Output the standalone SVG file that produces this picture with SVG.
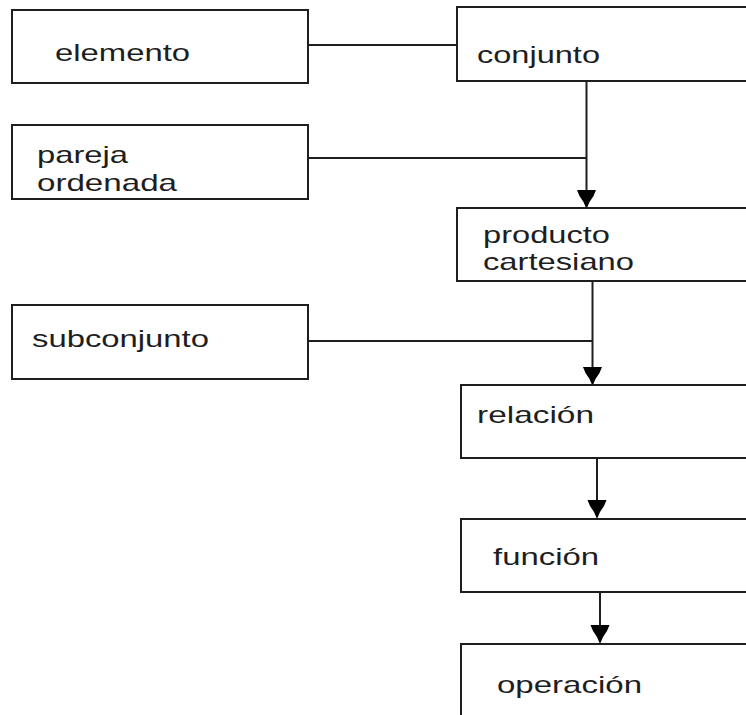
<svg xmlns="http://www.w3.org/2000/svg" xmlns:xlink="http://www.w3.org/1999/xlink" width="746" height="715" viewBox="0 0 746 715">
<style>
.box{fill:#fff;stroke:#1e1e1e;stroke-width:2}
.lbl{font-family:"Liberation Sans",Arial,sans-serif;font-size:24px;fill:#1e1e1e}
.con{stroke:#1e1e1e;stroke-width:2;fill:none}
.head{fill:#000}
</style>
<defs>
<path id="ah" d="M-9.5,0 L9.5,0 L7,6 L3,12 L0,19 L-3,12 L-7,6 Z"/>
</defs>
<rect width="746" height="715" fill="#fff"/>
<g id="connectors">
<line class="con" x1="308" y1="45" x2="457" y2="45"/>
<line class="con" x1="308" y1="158" x2="587" y2="158"/>
<line class="con" x1="308" y1="341" x2="592" y2="341"/>
<line class="con" x1="586.5" y1="81" x2="586.5" y2="192"/>
<line class="con" x1="592.5" y1="281" x2="592.5" y2="368"/>
<line class="con" x1="597" y1="458" x2="597" y2="502"/>
<line class="con" x1="600" y1="592" x2="600" y2="626"/>
<use class="head" xlink:href="#ah" href="#ah" transform="translate(586.5,190)"/>
<use class="head" xlink:href="#ah" href="#ah" transform="translate(592.5,367)"/>
<use class="head" xlink:href="#ah" href="#ah" transform="translate(597,500)"/>
<use class="head" xlink:href="#ah" href="#ah" transform="translate(600,625)"/>
</g>
<g id="elemento">
<rect class="box" x="12" y="10" width="296" height="73"/>
<text class="lbl" x="55" y="61" textLength="135" lengthAdjust="spacingAndGlyphs">elemento</text>
</g>
<g id="conjunto">
<rect class="box" x="457" y="7" width="320" height="74"/>
<text class="lbl" x="477" y="63" textLength="123" lengthAdjust="spacingAndGlyphs">conjunto</text>
</g>
<g id="pareja">
<rect class="box" x="12" y="125" width="296" height="74"/>
<text class="lbl" x="37" y="163" textLength="91" lengthAdjust="spacingAndGlyphs">pareja</text>
<text class="lbl" x="37" y="191" textLength="140" lengthAdjust="spacingAndGlyphs">ordenada</text>
</g>
<g id="producto">
<rect class="box" x="457" y="208" width="320" height="73"/>
<text class="lbl" x="483" y="243" textLength="127" lengthAdjust="spacingAndGlyphs">producto</text>
<text class="lbl" x="483" y="270" textLength="151" lengthAdjust="spacingAndGlyphs">cartesiano</text>
</g>
<g id="subconjunto">
<rect class="box" x="12" y="305" width="296" height="74"/>
<text class="lbl" x="32" y="347" textLength="177" lengthAdjust="spacingAndGlyphs">subconjunto</text>
</g>
<g id="relacion">
<rect class="box" x="461" y="385" width="320" height="73"/>
<text class="lbl" x="477" y="423" textLength="117" lengthAdjust="spacingAndGlyphs">relación</text>
</g>
<g id="funcion">
<rect class="box" x="461" y="519" width="320" height="73"/>
<text class="lbl" x="493" y="565" textLength="106" lengthAdjust="spacingAndGlyphs">función</text>
</g>
<g id="operacion">
<rect class="box" x="461" y="644" width="320" height="100"/>
<text class="lbl" x="497" y="693" textLength="145" lengthAdjust="spacingAndGlyphs">operación</text>
</g>
</svg>
